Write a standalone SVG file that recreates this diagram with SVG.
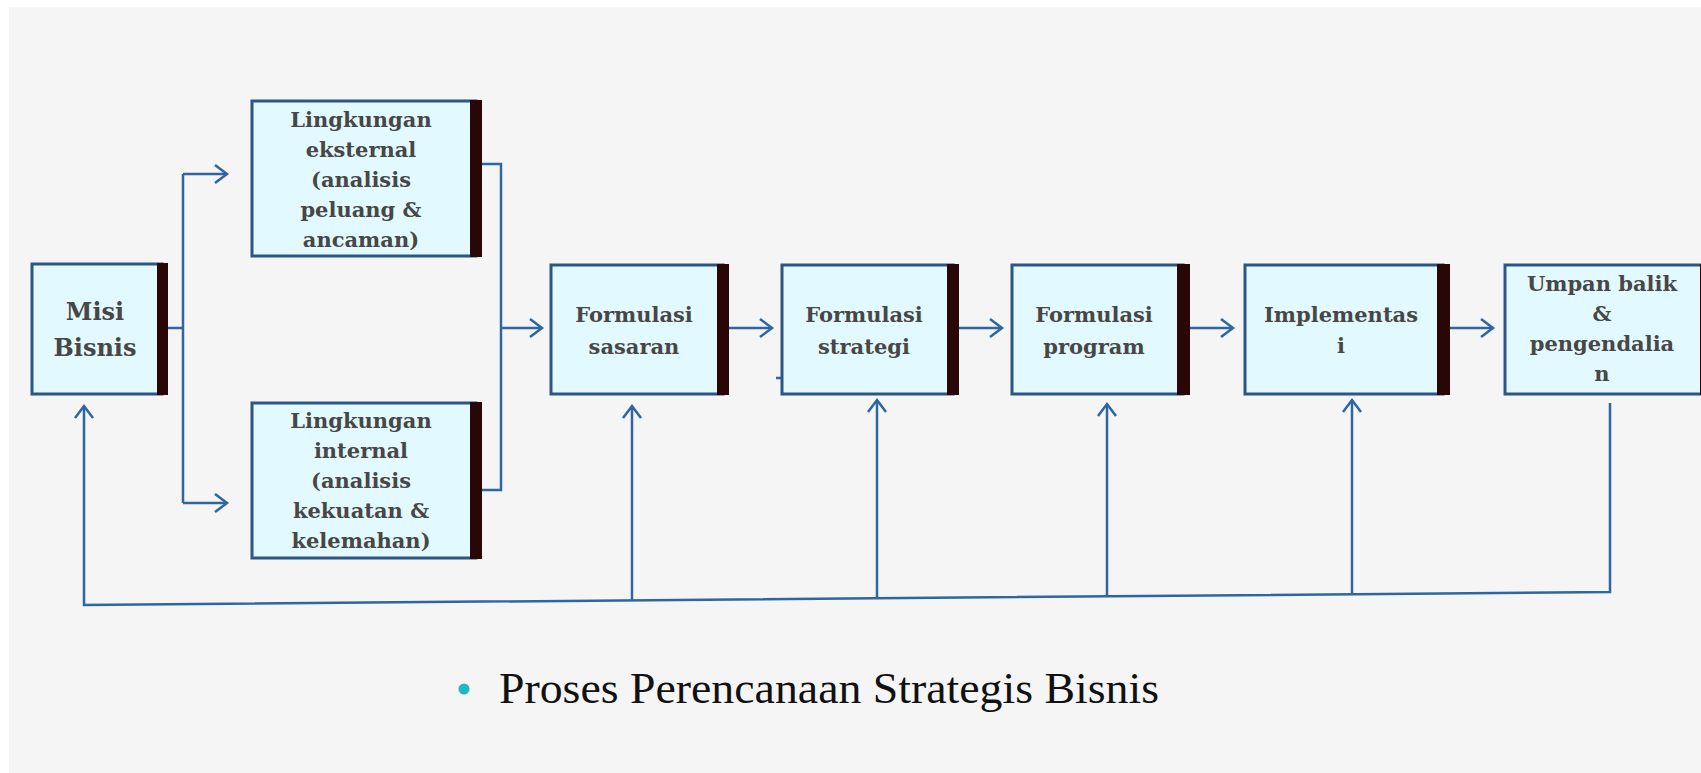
<svg xmlns="http://www.w3.org/2000/svg" width="1701" height="773" viewBox="0 0 1701 773">
<style>
.bg{fill:#f5f5f5}
.box{fill:#e2faff;stroke:#2c5684;stroke-width:3}
.bar{fill:#2a0707}
.t{font-family:"DejaVu Serif",serif;font-weight:bold;font-size:21px;fill:#474747;text-anchor:middle}
.tm{font-size:24px}
.c{fill:none;stroke:#2d66a2;stroke-width:2.5}
.cap{font-family:"Liberation Serif","Times New Roman",serif;font-size:45px;fill:#111}
</style>
<defs>
<marker id="ah" markerUnits="userSpaceOnUse" markerWidth="16" markerHeight="20" refX="13" refY="10" orient="auto">
<path d="M1,1 L13,10 L1,19" fill="none" stroke="#2d66a2" stroke-width="2.5"/>
</marker>
</defs>
<rect x="0" y="0" width="1701" height="773" fill="#ffffff"/>
<rect class="bg" x="9" y="7" width="1692" height="766"/>

<g id="connectors">
<path class="c" d="M157,328 H183"/>
<path class="c" d="M183,174 V503"/>
<path class="c" d="M183,174 H227" marker-end="url(#ah)"/>
<path class="c" d="M183,503 H227" marker-end="url(#ah)"/>
<path class="c" d="M473,164 H501 V490 H473"/>
<path class="c" d="M501,328 H542" marker-end="url(#ah)"/>
<path class="c" d="M713,328 H772" marker-end="url(#ah)"/>
<path class="c" d="M947,328 H1002" marker-end="url(#ah)"/>
<path class="c" d="M1177,328 H1233" marker-end="url(#ah)"/>
<path class="c" d="M1437,328 H1493" marker-end="url(#ah)"/>
<path class="c" d="M1610,403 V592 L84,605 V406" marker-end="url(#ah)"/>
<path class="c" d="M632,600.3 V406" marker-end="url(#ah)"/>
<path class="c" d="M877,598.2 V400" marker-end="url(#ah)"/>
<path class="c" d="M1107,596.3 V404" marker-end="url(#ah)"/>
<path class="c" d="M1352,594.2 V400" marker-end="url(#ah)"/>
<path class="c" d="M776,378 H781"/>
</g>

<g id="misi">
<rect class="box" x="32" y="264" width="130" height="130"/>
<rect class="bar" x="157" y="263" width="11" height="132"/>
<text class="t tm" x="95" y="320">Misi</text>
<text class="t tm" x="95" y="356">Bisnis</text>
</g>

<g id="eksternal">
<rect class="box" x="252" y="101" width="224" height="155"/>
<rect class="bar" x="470" y="100" width="12" height="157"/>
<text class="t" x="361" y="127">Lingkungan</text>
<text class="t" x="361" y="157">eksternal</text>
<text class="t" x="361" y="187">(analisis</text>
<text class="t" x="361" y="217">peluang &amp;</text>
<text class="t" x="361" y="247">ancaman)</text>
</g>

<g id="internal">
<rect class="box" x="252" y="403" width="224" height="155"/>
<rect class="bar" x="470" y="402" width="12" height="157"/>
<text class="t" x="361" y="428">Lingkungan</text>
<text class="t" x="361" y="458">internal</text>
<text class="t" x="361" y="488">(analisis</text>
<text class="t" x="361" y="518">kekuatan &amp;</text>
<text class="t" x="361" y="548">kelemahan)</text>
</g>

<g id="sasaran">
<rect class="box" x="551" y="265" width="172" height="129"/>
<rect class="bar" x="717" y="264" width="12" height="131"/>
<text class="t" x="634" y="322">Formulasi</text>
<text class="t" x="634" y="354">sasaran</text>
</g>

<g id="strategi">
<rect class="box" x="782" y="265" width="171" height="129"/>
<rect class="bar" x="947" y="264" width="12" height="131"/>
<text class="t" x="864" y="322">Formulasi</text>
<text class="t" x="864" y="354">strategi</text>
</g>

<g id="program">
<rect class="box" x="1012" y="265" width="171" height="129"/>
<rect class="bar" x="1177" y="264" width="13" height="131"/>
<text class="t" x="1094" y="322">Formulasi</text>
<text class="t" x="1094" y="354">program</text>
</g>

<g id="implementasi">
<rect class="box" x="1245" y="265" width="198" height="129"/>
<rect class="bar" x="1437" y="264" width="13" height="131"/>
<text class="t" x="1341" y="322">Implementas</text>
<text class="t" x="1341" y="353">i</text>
</g>

<g id="umpan">
<rect class="box" x="1505" y="265" width="205" height="129"/>
<rect class="bar" x="1700" y="264" width="12" height="131"/>
<text class="t" x="1602" y="291">Umpan balik</text>
<text class="t" x="1602" y="321">&amp;</text>
<text class="t" x="1602" y="351">pengendalia</text>
<text class="t" x="1602" y="381">n</text>
</g>

<g id="caption">
<circle cx="464" cy="689" r="5.5" fill="#1fb8c9"/>
<text class="cap" x="499" y="703" textLength="660" lengthAdjust="spacingAndGlyphs">Proses Perencanaan Strategis Bisnis</text>
</g>
</svg>
